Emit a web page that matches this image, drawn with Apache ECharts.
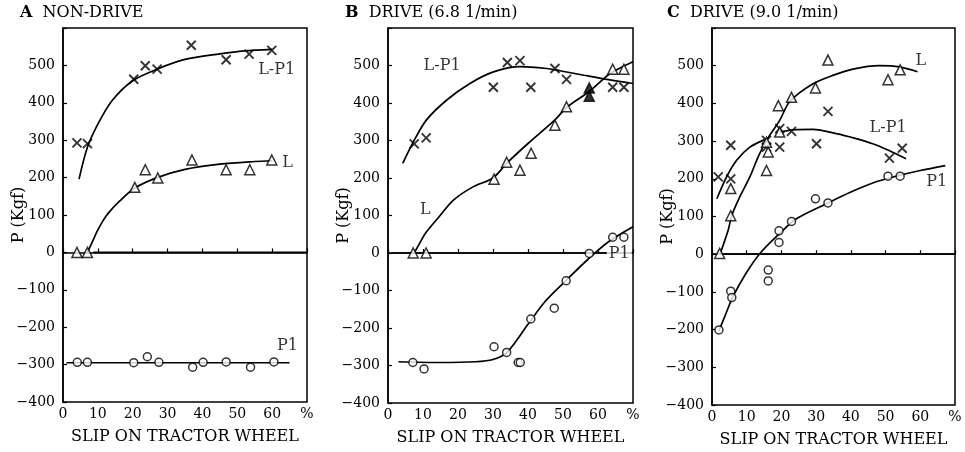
<!DOCTYPE html>
<html>
<head>
<meta charset="utf-8">
<script src="https://cdn.jsdelivr.net/npm/echarts@6/dist/echarts.min.js"></script>
<style>
html, body { margin: 0; padding: 0; background: #fff; }
#main { width: 965px; height: 452px; }
</style>
</head>
<body>
<div id="main"></div>
<script>
// 轴刻度
var xTicks = [0, 10, 20, 30, 40, 50, 60, 70];
var yTicks = [-400, -300, -200, -100, 0, 100, 200, 300, 400, 500, 600];
var panelTitles = ['A', 'B', 'C'];
var panelNames = ['NON-DRIVE', 'DRIVE (6.8 1/min)', 'DRIVE (9.0 1/min)'];

// A NON-DRIVE 测点
var aLP1 = [[4, 293], [7, 291], [20.3, 463], [23.6, 499], [27, 490], [36.8, 554], [46.8, 515], [53.4, 530], [59.9, 540]];
var aL = [[4, 0], [7, 0], [20.6, 174], [23.6, 221], [27.2, 199], [37, 247], [46.8, 221], [53.6, 221], [59.9, 247]];
var aP1 = [[4.1, -294], [7, -294], [20.3, -295], [24.2, -279], [27.5, -294], [37.2, -307], [40.2, -294], [46.8, -293], [53.8, -307], [60.5, -293]];
// A 拟合曲线
var aLP1Curve = [[4.6, 196], [7, 281], [10, 343], [14, 405], [20, 459], [27, 490], [35, 516], [45, 531], [52, 539], [60, 543]];
var aLCurve = [[7, 0], [8.5, 30], [10, 60], [11.5, 85], [13, 105], [16, 135], [20.6, 172], [27, 200], [35, 222], [45, 236], [55, 243], [60, 245]];
var aP1Curve = [[1, -295], [65, -295]];
var aZero = [[8.7, 0], [70, 0]];
var aLabels = [['L-P1', 56, 489], ['L', 62.9, 240], ['P1', 61.4, -251]];

// B DRIVE 6.8
var bLP1 = [[7.5, 291], [10.9, 307], [30.1, 442], [34.1, 508], [37.7, 513], [40.8, 442], [47.7, 492], [51, 463], [64.2, 442], [67.4, 442]];
var bL = [[7.2, 0], [10.9, 0], [30.3, 197], [33.9, 242], [37.7, 221], [40.9, 266], [47.7, 341], [51, 390], [64.2, 490], [67.4, 490]];
var bSolid = [[57.5, 440], [57.5, 418]];
var bP1 = [[7.1, -292], [10.3, -309], [30.3, -250], [33.9, -265], [37.2, -292], [37.8, -292], [40.8, -176], [47.5, -147], [50.9, -74], [57.5, -1], [64.2, 42], [67.4, 42]];
var bLP1Curve = [[4.2, 239], [7.5, 301], [11, 355], [16.8, 408], [23.4, 452], [30.1, 483], [37.7, 497], [45.3, 492], [49.1, 486], [56, 474], [62.5, 463], [70, 452]];
var bLCurve = [[7.5, 0], [9, 25], [10.5, 50], [12, 68], [14, 90], [18.7, 141], [24.4, 177], [30, 200], [34, 240], [40, 292], [47.7, 355], [51, 388], [57.7, 432], [63.4, 478], [70, 510]];
var bP1Curve = [[3, -290], [15, -292], [25, -290], [30, -284], [34, -265], [40, -190], [45, -128], [51, -72], [57, -18], [63, 30], [70, 70]];
var bZero = [[1, 0], [70, 0]];
var bLabels = [['L-P1', 9.6, 499], ['L', 8.6, 115], ['P1', 62.5, -1]];

// C DRIVE 9.0
var cLP1 = [[1.8, 205], [5.4, 289], [5.4, 200], [15.7, 302], [15.7, 284], [19.5, 284], [19.5, 333], [22.9, 326], [30.1, 293], [33.4, 379], [51.1, 255], [54.8, 281]];
var cL = [[2.2, 2], [5.4, 174], [5.4, 102], [15.7, 222], [16.2, 271], [15.7, 297], [19.1, 394], [19.5, 324], [22.9, 416], [29.8, 441], [33.4, 515], [50.7, 463], [54.2, 489]];
var cP1 = [[2, -201], [5.4, -98], [5.7, -115], [16.2, -42], [16.2, -71], [19.3, 62], [19.3, 31], [22.9, 87], [29.8, 147], [33.4, 136], [50.7, 207], [54.2, 207]];
var cLCurve = [[2.3, 0], [4.7, 65], [5.7, 103], [8, 152], [10.9, 205], [13.3, 258], [15.7, 302], [19.5, 355], [22.4, 405], [29.1, 452], [35, 475], [40.6, 491], [48.2, 500], [54, 497], [59.2, 484]];
var cLP1CurveA = [[1.4, 147], [4.2, 205], [7.1, 249], [10.9, 284], [15.2, 304]];
var cLP1CurveB = [[19.5, 324], [23.4, 330], [29.1, 331], [35.8, 320], [41, 308], [46.3, 293], [51, 275], [55.9, 253]];
var cP1Curve = [[2, -203], [4, -158], [5.9, -115], [9.5, -55], [13.8, 2], [19.5, 55], [24.3, 94], [33.4, 136], [40, 165], [46.3, 189], [54, 209], [60, 222], [67.2, 235]];
var cZero = [[2.3, 0], [70, 0]];
var cLabels = [['L', 58.6, 514], ['L-P1', 45.4, 334], ['P1', 61.7, 191]];

var serif = 'DejaVu Serif';
var grids = [
	{ left: 63, right: 658, top: 28, bottom: 50 },
	{ left: 388, right: 332, top: 28, bottom: 49 },
	{ left: 712, right: 10, top: 28, bottom: 47 }
];

function curve(idx, data) {
	return {
		type: 'line', xAxisIndex: idx, yAxisIndex: idx, data: data,
		symbol: 'none', smooth: 0.3, silent: true, z: 2,
		lineStyle: { color: '#000', width: 1.7 }
	};
}
function marks(idx, data, kind, solid) {
	var s = {
		type: 'scatter', xAxisIndex: idx, yAxisIndex: idx, data: data, silent: true, z: 5,
		itemStyle: { color: solid ? '#000' : '#fff', borderColor: '#000', borderWidth: 1.5 }
	};
	if (kind == 'x') {
		s.symbol = 'path://M0,0L10,10M10,0L0,10';
		s.symbolSize = 9;
		s.itemStyle.color = 'rgba(0,0,0,0)';
		s.itemStyle.borderWidth = 1.9;
	} else if (kind == 'tri') {
		s.symbol = 'triangle';
		s.symbolSize = 10;
	} else {
		s.symbol = 'circle';
		s.symbolSize = 8;
	}
	return s;
}
function labels(idx, list, bg) {
	return {
		type: 'scatter', xAxisIndex: idx, yAxisIndex: idx, symbolSize: 0, silent: true, z: 6,
		data: list.map(function(e) { return { name: e[0], value: [e[1], e[2]] }; }),
		label: {
			show: true, position: 'right', distance: 0, formatter: '{b}',
			fontFamily: serif, fontSize: 16, color: '#000',
			backgroundColor: bg ? '#fff' : 'transparent', padding: bg ? [0, 2] : 0
		}
	};
}

var option = {
	backgroundColor: '#fff',
	animation: false,
	title: [],
	grid: [],
	xAxis: [],
	yAxis: [],
	series: []
};
var titleLeft = [20, 345, 667];
for (var i = 0; i < 3; i++) {
	option.title.push({
		text: '{a|' + panelTitles[i] + '}  ' + panelNames[i],
		left: titleLeft[i], top: 5, padding: 0,
		textStyle: {
			fontFamily: serif, fontSize: 16, fontWeight: 'normal', color: '#000',
			rich: { a: { fontFamily: serif, fontSize: 16, fontWeight: 'bold', color: '#000' } }
		}
	});
	option.grid.push({
		left: grids[i].left, right: grids[i].right, top: grids[i].top, bottom: grids[i].bottom,
		outerBoundsMode: 'none',
		show: true, borderColor: '#000', borderWidth: 1.5, backgroundColor: 'transparent'
	});
	option.xAxis.push({
		type: 'value', gridIndex: i, min: xTicks[0], max: xTicks[xTicks.length - 1], interval: 10,
		splitLine: { show: false },
		axisLine: { lineStyle: { color: '#000', width: 1.5 } },
		axisTick: { inside: true, length: 4, lineStyle: { color: '#000', width: 1.2 } },
		axisLabel: {
			margin: 5, fontFamily: serif, fontSize: 14, color: '#000',
			formatter: function(v) { return v == 70 ? '%' : String(v); }
		},
		name: 'SLIP ON TRACTOR WHEEL', nameLocation: 'middle', nameGap: 27,
		nameTextStyle: { fontFamily: serif, fontSize: 16, color: '#000' }
	});
	option.yAxis.push({
		type: 'value', gridIndex: i, min: yTicks[0], max: yTicks[yTicks.length - 1], interval: 100,
		splitLine: { show: false },
		axisLine: { lineStyle: { color: '#000', width: 1.5 } },
		axisTick: { inside: true, length: 4, lineStyle: { color: '#000', width: 1.2 } },
		axisLabel: {
			margin: 8, fontFamily: serif, fontSize: 14, color: '#000',
			formatter: function(v) { return v == 600 ? '' : String(v).replace('-', '\u2212'); }
		},
		name: 'P (Kgf)', nameLocation: 'middle', nameGap: 36, nameMoveOverlap: false,
		nameTextStyle: { fontFamily: serif, fontSize: 16, color: '#000' }
	});
}

option.series.push(
	curve(0, aZero), curve(0, aLP1Curve), curve(0, aLCurve), curve(0, aP1Curve),
	marks(0, aLP1, 'x'), marks(0, aL, 'tri'), marks(0, aP1, 'o'), labels(0, aLabels),
	curve(1, bZero), curve(1, bLP1Curve), curve(1, bLCurve), curve(1, bP1Curve),
	marks(1, bLP1, 'x'), marks(1, bL, 'tri'), marks(1, bSolid, 'tri', true), marks(1, bP1, 'o'), labels(1, bLabels, true),
	curve(2, cZero), curve(2, cLCurve), curve(2, cLP1CurveA), curve(2, cLP1CurveB), curve(2, cP1Curve),
	marks(2, cLP1, 'x'), marks(2, cL, 'tri'), marks(2, cP1, 'o'), labels(2, cLabels)
);

var chart = echarts.init(document.getElementById('main'));
chart.setOption(option);
</script>
</body>
</html>
